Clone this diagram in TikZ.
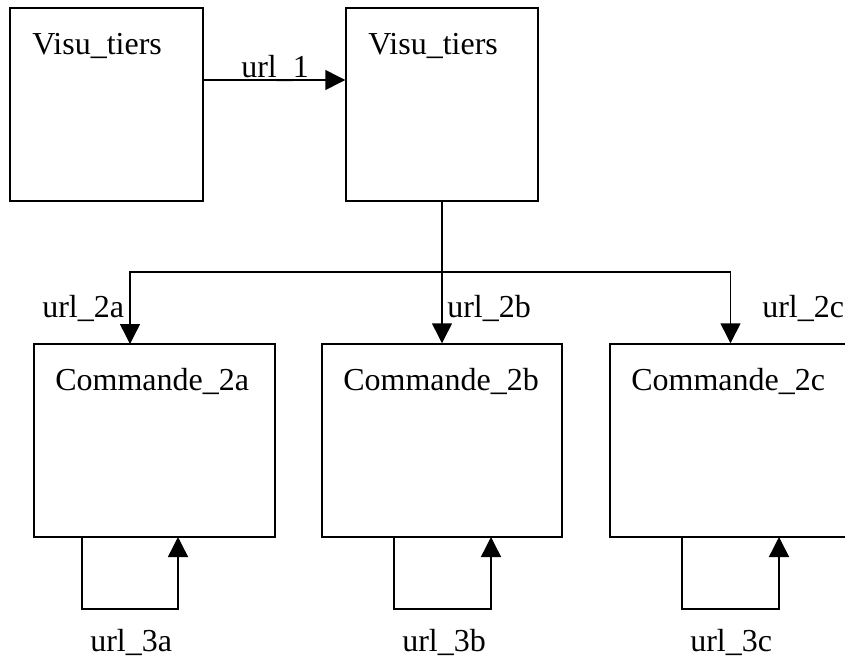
\documentclass[tikz,border=0pt]{standalone}
\usepackage{fontspec}
\setmainfont{Liberation Serif}
\usetikzlibrary{arrows.meta,calc}
\begin{document}
\begin{tikzpicture}[x=0.75pt,y=-0.75pt,
  box/.style={draw,line width=1.1pt,inner sep=0pt},
  conn/.style={line width=1.1pt},
  arr/.style={conn,-{Triangle[length=15pt,width=15pt]}},
  lbl/.style={inner sep=0pt,anchor=base west,font=\fontsize{24}{28}\selectfont}]
\clip (0,0) rectangle (845,657);
\fill[white] (0,0) rectangle (845,657);
% boxes
\node[box,minimum width=193*0.75pt,minimum height=193*0.75pt] (v1) at (106.5,104.5) {};
\node[box,minimum width=192*0.75pt,minimum height=193*0.75pt] (v2) at (442,104.5) {};
\node[box,minimum width=241*0.75pt,minimum height=193*0.75pt] (ca) at (154.5,440.5) {};
\node[box,minimum width=240*0.75pt,minimum height=193*0.75pt] (cb) at (442,440.5) {};
\node[box,minimum width=241*0.75pt,minimum height=193*0.75pt] (cc) at (730.5,440.5) {};
% box titles
\node[lbl] (t1) at (32,54) {Visu\_tiers};
\node[lbl] (t2) at (368,54) {Visu\_tiers};
\node[lbl] (ta) at (55,390) {Commande\_2a};
\node[lbl] (tb) at (343,390) {Commande\_2b};
\node[lbl] (tc) at (631,390) {Commande\_2c};
% url_1
\draw[arr] (v1.east |- 0,80) -- (v2.west |- 0,80);
\node[lbl] (u1) at (241,77) {url\_1};
% fan out
\coordinate (j) at (442,272);
\coordinate (ea) at (130,344);
\draw[conn] (v2.south) -- (j);
\draw[arr] (j) -| (ea);
\draw[arr] (j) -- (cb.north);
\draw[arr] (j) -| (cc.north);
\node[lbl] (u2a) at (42,317) {url\_2a};
\node[lbl] (u2b) at (447,317) {url\_2b};
\node[lbl] (u2c) at (762,317) {url\_2c};
% loops
\coordinate (la1) at (82,537); \coordinate (la2) at (178,537);
\coordinate (lb1) at (394,537); \coordinate (lb2) at (491,537);
\coordinate (lc1) at (682,537); \coordinate (lc2) at (779,537);
\draw[arr] (la1) -- ++(0,72) -| (la2);
\draw[arr] (lb1) -- ++(0,72) -| (lb2);
\draw[arr] (lc1) -- ++(0,72) -| (lc2);
\node[lbl] (u3a) at (90,651) {url\_3a};
\node[lbl] (u3b) at (402,651) {url\_3b};
\node[lbl] (u3c) at (690,651) {url\_3c};
\end{tikzpicture}
\end{document}
